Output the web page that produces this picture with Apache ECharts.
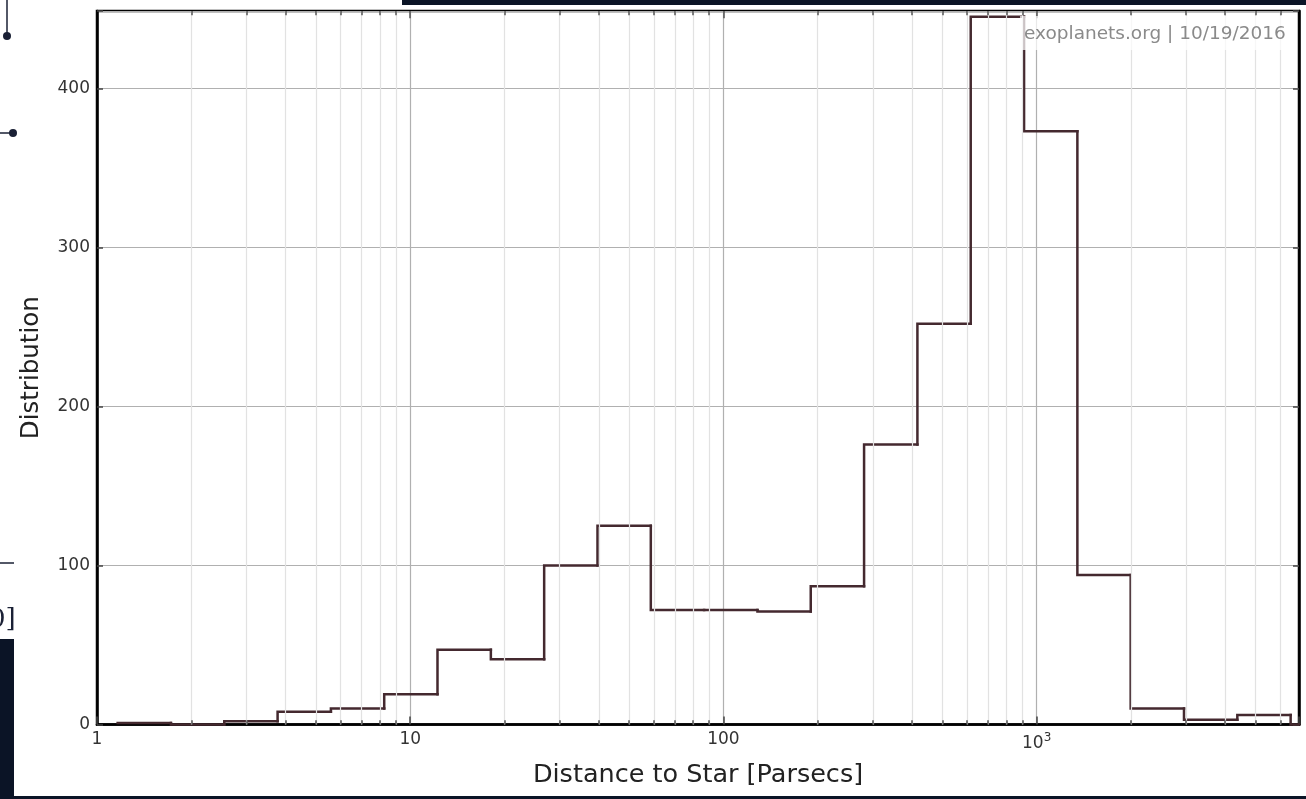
<!DOCTYPE html>
<html>
<head>
<meta charset="utf-8">
<script src="https://cdn.jsdelivr.net/npm/echarts@6/dist/echarts.min.js"></script>
<style>
html,body{margin:0;padding:0;background:#ffffff;}
#chart{width:1306px;height:799px;}
</style>
</head>
<body>
<div id="chart"></div>
<script>
// Bin edges (parsecs)
var binEdges = [1.164, 1.722, 2.549, 3.772, 5.581, 8.26, 12.22, 18.09, 26.77, 39.62, 58.63, 86.77, 128.4, 190.0, 281.2, 416.2, 615.9, 911.6, 1349, 1996, 2954, 4372, 6470];
// Counts per bin
var binCounts = [1, 0, 2, 8, 10, 19, 47, 41, 100, 125, 72, 72, 71, 87, 176, 252, 445, 373, 94, 10, 3, 6, 0];
// Axis ranges
var xRange = [1, 6880];
var yRange = [0, 448.6];
var yTickStep = 100;
// Minor log grid positions
var minorTicks = [2,3,4,5,6,7,8,9,20,30,40,50,60,70,80,90,200,300,400,500,600,700,800,900,2000,3000,4000,5000,6000];
var decadeTicks = [10, 100, 1000];
var xTickLabels = {1: '1', 10: '10', 100: '100', 1000: '10{s|3}'};

var FONT = 'DejaVu Sans';

// one item per bin: [left edge, right edge, count, previous count]
var binData = [];
for (var i = 0; i < binCounts.length; i++) {
  var right = (i + 1 < binEdges.length) ? binEdges[i + 1] : xRange[1];
  var prev = i > 0 ? binCounts[i - 1] : binCounts[i];
  binData.push([binEdges[i], right, binCounts[i], prev]);
}

var minorGrid = minorTicks.map(function (v) { return { xAxis: v }; });
var tickMarks = [];
minorTicks.forEach(function (v) {
  tickMarks.push([{ coord: [v, yRange[0]] }, { coord: [v, 2.6] }]);
  tickMarks.push([{ coord: [v, yRange[1]] }, { coord: [v, yRange[1] - 2.6] }]);
});
decadeTicks.forEach(function (v) {
  tickMarks.push([{ coord: [v, yRange[1]] }, { coord: [v, yRange[1] - 4.5] }]);
});

var chart = echarts.init(document.getElementById('chart'), null, { renderer: 'canvas' });
var option = {
  animation: false,
  backgroundColor: '#ffffff',
  grid: {
    left: 97, right: 7, top: 11, bottom: 74.5,
    show: true, borderColor: '#000', borderWidth: 2.5, backgroundColor: '#fff'
  },
  xAxis: {
    type: 'log', logBase: 10, min: xRange[0], max: xRange[1],
    name: 'Distance to Star [Parsecs]', nameLocation: 'middle', nameGap: 38,
    nameTextStyle: { fontFamily: FONT, fontSize: 25.5, color: '#222' },
    axisLine: { show: true, onZero: false, lineStyle: { color: '#000', width: 2.5 } },
    axisTick: { show: true, inside: true, length: 8, lineStyle: { color: '#444', width: 1.5 } },
    splitLine: { show: true, lineStyle: { color: '#b0b0b0', width: 1.2 } },
    axisLabel: {
      fontFamily: FONT, fontSize: 17, color: '#333', margin: 7,
      formatter: function (v) {
        var r = Math.round(v);
        if (Math.abs(v - r) < 1e-6 && xTickLabels[r] !== undefined) return xTickLabels[r];
        return '';
      },
      rich: { s: { fontFamily: FONT, fontSize: 12, color: '#333', verticalAlign: 'top', padding: [0, 0, 12, 0] } }
    }
  },
  yAxis: [{
    type: 'value', min: yRange[0], max: yRange[1], interval: yTickStep,
    name: 'Distribution', nameLocation: 'middle', nameGap: 53,
    nameTextStyle: { fontFamily: FONT, fontSize: 24.5, color: '#222' },
    axisLine: { show: true, lineStyle: { color: '#000', width: 2.5 } },
    axisTick: { show: true, inside: true, length: 6, lineStyle: { color: '#444', width: 1.5 } },
    splitLine: { show: true, lineStyle: { color: '#b0b0b0', width: 1.2 } },
    axisLabel: {
      fontFamily: FONT, fontSize: 17, color: '#333', margin: 7,
      formatter: function (v) { return (Math.abs(v % yTickStep) < 1e-6) ? String(v) : ''; }
    }
  }, {
    type: 'value', min: yRange[0], max: yRange[1], interval: yTickStep, position: 'right',
    axisLine: { show: true, lineStyle: { color: '#000', width: 2.5 } },
    axisTick: { show: true, inside: true, length: 6, lineStyle: { color: '#444', width: 1.5 } },
    splitLine: { show: false },
    axisLabel: { show: false }
  }],
  series: [{
    type: 'line', data: [], z: 1, silent: true,
    markLine: {
      silent: true, symbol: 'none', animation: false,
      label: { show: false },
      lineStyle: { color: '#e2e2e2', type: 'solid', width: 1.2 },
      emphasis: { disabled: true },
      data: minorGrid
    }
  }, {
    type: 'line', data: [], z: 2, silent: true,
    markLine: {
      silent: true, symbol: 'none', animation: false,
      label: { show: false },
      lineStyle: { color: '#555', type: 'solid', width: 1.5 },
      emphasis: { disabled: true },
      data: tickMarks
    }
  }, {
    type: 'custom', z: 3, silent: true,
    data: binData,
    encode: { x: [0, 1], y: [2, 3] },
    renderItem: function (params, api) {
      var pStart = api.coord([api.value(0), api.value(3)]);
      var pUp = api.coord([api.value(0), api.value(2)]);
      var pEnd = api.coord([api.value(1), api.value(2)]);
      return {
        type: 'polyline',
        shape: { points: [pStart, pUp, pEnd] },
        style: { stroke: '#44292f', lineWidth: 2.5, fill: null, lineCap: 'square', lineJoin: 'miter' }
      };
    }
  }],
  graphic: [
    { type: 'rect', z: 100, shape: { x: 1020, y: 16, width: 274, height: 34 }, style: { fill: 'rgba(255,255,255,0.72)' } },
    { type: 'text', z: 101, x: 1024, y: 34, style: { text: 'exoplanets.org | 10/19/2016', font: '18.5px "DejaVu Sans"', fill: '#8a8a8a', textVerticalAlign: 'middle' } },
    // surrounding screenshot frame
    { type: 'rect', z: 50, shape: { x: 402, y: 0, width: 904, height: 5 }, style: { fill: '#0b1426' } },
    { type: 'rect', z: 50, shape: { x: 0, y: 796, width: 1306, height: 3 }, style: { fill: '#0b1426' } },
    { type: 'rect', z: 50, shape: { x: 0, y: 639, width: 14, height: 160 }, style: { fill: '#0b1426' } },
    { type: 'line', z: 50, shape: { x1: 7, y1: 0, x2: 7, y2: 35 }, style: { stroke: '#1a2035', lineWidth: 1.5 } },
    { type: 'circle', z: 50, shape: { cx: 7, cy: 36, r: 4 }, style: { fill: '#1a2035' } },
    { type: 'circle', z: 50, shape: { cx: 13, cy: 133, r: 4 }, style: { fill: '#1a2035' } },
    { type: 'line', z: 50, shape: { x1: 0, y1: 133, x2: 12, y2: 133 }, style: { stroke: '#1a2035', lineWidth: 1.5 } },
    { type: 'line', z: 50, shape: { x1: 0, y1: 563, x2: 14, y2: 563 }, style: { stroke: '#1a2035', lineWidth: 1.5 } },
    { type: 'text', z: 50, x: -11, y: 620, style: { text: '0]', font: '26px "DejaVu Serif"', fill: '#1a2035', textVerticalAlign: 'middle' } }
  ]
};
chart.setOption(option);
</script>
</body>
</html>
